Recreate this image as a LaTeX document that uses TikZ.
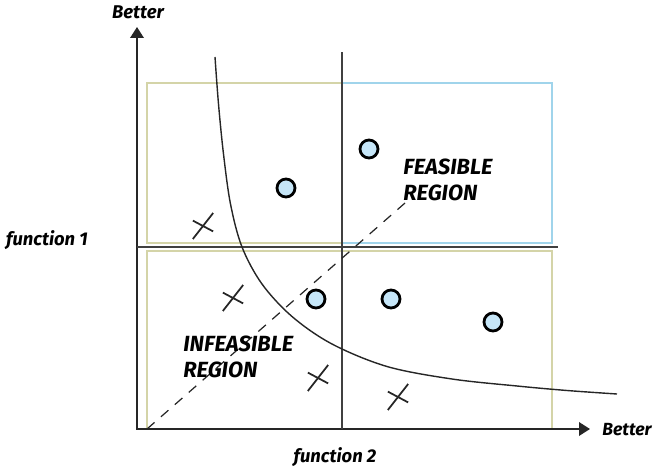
\documentclass[tikz,border=0pt]{standalone}
\usepackage{fontspec}
\setmainfont{Fira Sans}
\usepackage{tikz}
\usetikzlibrary{arrows.meta}

\definecolor{khakiedge}{RGB}{212,212,168}
\definecolor{skyedge}{RGB}{160,212,235}
\definecolor{ptfill}{RGB}{198,230,248}

\begin{document}
\begin{tikzpicture}[>={Triangle[length=0.22cm, width=0.27cm]},
    axis/.style={line width=1.1pt, black!85},
    divider/.style={line width=0.8pt, black!75},
    lbl/.style={font=\fontsize{10.5}{12}\selectfont\bfseries\itshape},
    region/.style={font=\fontsize{12.5}{14.5}\selectfont\bfseries\itshape, align=left, anchor=west, inner sep=0pt},
    goodpt/.style={circle, draw, line width=1.6pt, fill=ptfill, minimum size=0.36cm, inner sep=0pt},
    crossmark/.pic={
        \draw[line width=1pt, black!85] (232:0.33) -- (52:0.33);
        \draw[line width=1pt, black!85] (152:0.23) -- (-28:0.23);
    }]
    \useasboundingbox (-2.74,-0.74) rectangle (10.40,8.58);

    % axes
    \coordinate (O) at (0,0);
    \coordinate (ytop) at (0,8.04);
    \coordinate (xend) at (9.06,0);

    % quadrant boxes
    \draw[khakiedge, line width=0.7pt] (0.20,3.72) rectangle (4.10,6.92);
    \draw[skyedge, line width=0.7pt] (4.10,3.72) rectangle (8.30,6.92);
    \draw[khakiedge, line width=0.7pt] (0.20,0) rectangle (8.30,3.56);

    \draw[axis, <->] (ytop) -- (O) -- (xend);
    \draw[divider] (4.10,0) -- (4.10,7.54);
    \draw[divider] (0,3.64) -- (8.42,3.64);

    % boundary curve
    \draw[line width=0.8pt, black!85] plot[smooth, tension=0.55] coordinates
        {(1.56,7.44) (1.63,6.50) (1.73,5.50) (1.87,4.50) (2.10,3.64) (2.50,2.90) (3.10,2.25) (3.90,1.70) (5.00,1.25) (6.30,1.00) (7.60,0.86) (8.60,0.77) (9.60,0.70)};

    % diagonal
    \draw[dash pattern=on 0.2cm off 0.17cm, line width=0.7pt, black!85] (0.20,0) -- (5.36,4.52);

    % solutions
    \node[goodpt] (p1) at (2.98,4.82) {};
    \node[goodpt] (p2) at (4.64,5.60) {};
    \node[goodpt] (p3) at (3.58,2.60) {};
    \node[goodpt] (p4) at (5.08,2.60) {};
    \node[goodpt] (p5) at (7.12,2.14) {};

    \pic (x1) at (1.32,4.06) {crossmark};
    \pic (x2) at (1.92,2.62) {crossmark};
    \pic (x3) at (3.62,1.02) {crossmark};
    \pic (x4) at (5.22,0.64) {crossmark};

    % labels
    \node[lbl] (betterY) at (0.02,8.34) {Better};
    \node[lbl, anchor=west, inner sep=0pt, font=\fontsize{10}{12}\selectfont\bfseries\itshape] (betterX) at (9.30,-0.02) {Better};
    \node[lbl] (f1) at (-1.80,3.78) {function 1};
    \node[lbl] (f2) at (3.96,-0.56) {function 2};
    \node[region] (feas) at (5.32,4.98) {FEASIBLE\\REGION};
    \node[region] (infeas) at (0.92,1.44) {INFEASIBLE\\REGION};
\end{tikzpicture}
\end{document}
